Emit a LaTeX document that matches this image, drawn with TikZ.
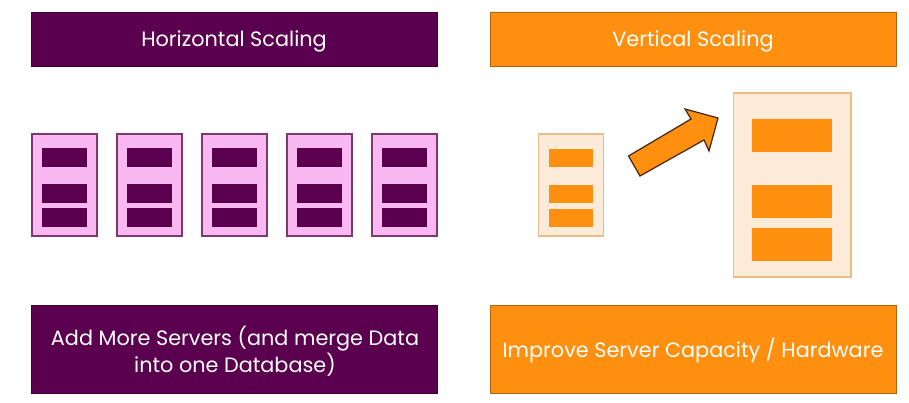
\documentclass[tikz,border=0pt]{standalone}
\usepackage{fontspec}
\setmainfont{Poppins}
\definecolor{plum}{HTML}{5A004F}
\definecolor{plumline}{HTML}{7A3A70}
\definecolor{pinkfill}{HTML}{F9B8F2}
\definecolor{orangemain}{HTML}{FF8F0E}
\definecolor{orangepale}{HTML}{FDEBDA}
\definecolor{orangeline}{HTML}{EDBB85}
\definecolor{arrowline}{HTML}{3F2418}
\tikzset{
  x=1pt,y=-1pt,
  banner/.style={draw=#1!70!black,line width=.6pt,fill=#1},
  label text/.style={text=white,font=\fontsize{20.8}{26.5}\selectfont,align=center},
  pinkcase/.style={draw=plumline,line width=1.1pt,fill=pinkfill},
  palecase/.style={draw=orangeline,line width=1.1pt,fill=orangepale},
  plumbar/.style={fill=plum},
  orangebar/.style={fill=orangemain},
}
\begin{document}
\begin{tikzpicture}
\useasboundingbox (0,0) rectangle (909,402);
\fill[white] (0,0) rectangle (909,402);
% banners
\draw[banner=plum] (31.5,12) rectangle (437.5,66);
\node[label text] (hs) at (234,41) {Horizontal Scaling};
\draw[banner=orangemain] (490.5,12) rectangle (896.5,66);
\node[label text] (vs) at (693,41) {Vertical Scaling};
\draw[banner=plum] (31.5,305) rectangle (437.5,393);
\node[label text] (addmore) at (235,351) {Add More Servers (and merge Data\\into one Database)};
\draw[banner=orangemain] (490.5,305) rectangle (896.5,393);
\node[label text] (improve) at (693,350) {Improve Server Capacity / Hardware};
% horizontal servers
\foreach \xo in {32,117,202,287,372}{
  \draw[pinkcase] (\xo,134) rectangle ++(65,102);
  \fill[plumbar] (\xo+10,148) rectangle ++(45,19);
  \fill[plumbar] (\xo+10,184) rectangle ++(45,19);
  \fill[plumbar] (\xo+10,208) rectangle ++(45,19);
}
% small server
\draw[palecase] (538.5,134) rectangle (603.5,236);
\fill[orangebar] (549,148.5) rectangle (593,167);
\fill[orangebar] (549,185) rectangle (593,203);
\fill[orangebar] (549,209) rectangle (593,227);
% big server
\draw[palecase] (733.5,93) rectangle (851,277);
\fill[orangebar] (752,119) rectangle (832,152);
\fill[orangebar] (752,185) rectangle (832,218);
\fill[orangebar] (752,228) rectangle (832,261);
% arrow
\draw[fill=orangemain,draw=arrowline,line width=1.2pt,line join=miter]
  (628.5,156) -- (691,119) -- (685,109) -- (718,118) -- (709,151) -- (704,140) -- (640,176) -- cycle;
\end{tikzpicture}
\end{document}
